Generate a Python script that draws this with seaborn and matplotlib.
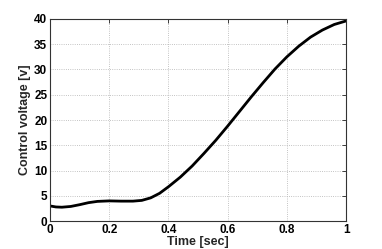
import numpy as np
import pandas as pd
import seaborn as sns
import matplotlib.pyplot as plt

# values
time_sec = [0.0, 0.02, 0.04, 0.07, 0.10, 0.13, 0.16, 0.20, 0.24, 0.28, 0.31, 0.34,
            0.37, 0.40, 0.44, 0.48, 0.52, 0.56, 0.60, 0.64, 0.68, 0.72, 0.76,
            0.80, 0.84, 0.88, 0.92, 0.96, 1.0]
voltage = [3.0, 2.8, 2.75, 2.9, 3.25, 3.65, 3.9, 4.0, 3.95, 3.95, 4.1, 4.6,
           5.5, 6.8, 8.7, 10.9, 13.4, 16.0, 18.8, 21.7, 24.6, 27.4, 30.1,
           32.5, 34.6, 36.4, 37.8, 38.9, 39.6]
x_ticks = [0, 0.2, 0.4, 0.6, 0.8, 1]
x_labels = ['0', '0.2', '0.4', '0.6', '0.8', '1']
y_ticks = [0, 5, 10, 15, 20, 25, 30, 35, 40]

df = pd.DataFrame({'Time': time_sec, 'Voltage': voltage})

sns.set_style('white')
plt.rcParams['font.family'] = ['Liberation Sans', 'DejaVu Sans']
plt.rcParams['font.weight'] = 'bold'

fig = plt.figure(figsize=(3.82, 2.49), dpi=100)
ax = fig.add_axes([0.131, 0.112, 0.775, 0.812])

sns.lineplot(data=df, x='Time', y='Voltage', ax=ax, color='black', linewidth=2)

ax.set_xlim(0, 1)
ax.set_ylim(0, 40)
ax.set_xticks(x_ticks)
ax.set_xticklabels(x_labels)
ax.set_yticks(y_ticks)
ax.tick_params(direction='in', length=3, width=0.6, labelsize=8.5, pad=2,
               top=True, right=True, colors='#222222')
for lbl in ax.get_xticklabels() + ax.get_yticklabels():
    lbl.set_fontweight('bold')
    lbl.set_color('black')
ax.grid(True, linestyle=':', color='#b0b0b0', linewidth=0.6)
for s in ax.spines.values():
    s.set_color('#333333')
    s.set_linewidth(0.8)

ax.set_xlabel('Time [sec]', fontsize=9, fontweight='bold', labelpad=0)
ax.set_ylabel('Control voltage [v]', fontsize=9, fontweight='bold', labelpad=2)

fig.savefig('out.png', dpi=100)
